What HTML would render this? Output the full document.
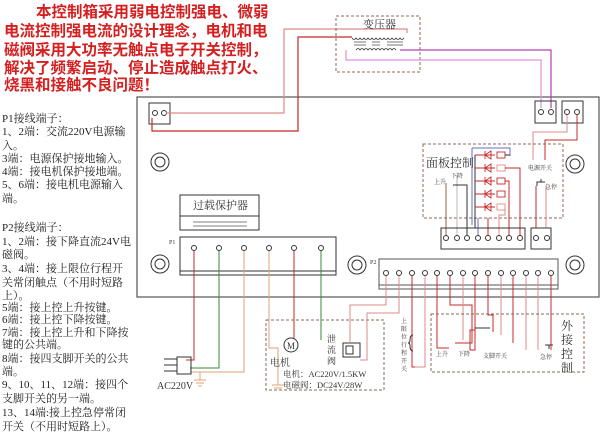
<!DOCTYPE html>
<html><head><meta charset="utf-8"><style>
html,body{margin:0;padding:0;background:#fff;width:600px;height:435px;overflow:hidden}
svg{display:block}
text{font-family:"Liberation Serif","Noto Serif CJK SC","Noto Sans CJK SC",serif}
.h text{font-family:"Liberation Sans","Noto Sans CJK SC",sans-serif}
</style></head><body>
<svg width="600" height="435" viewBox="0 0 600 435" xmlns="http://www.w3.org/2000/svg">
<!-- heading -->
<g class="h" fill="#d42020" font-size="15.5" font-weight="bold">
<text x="36" y="17">本控制箱采用弱电控制强电、微弱</text>
<text x="4" y="36">电流控制强电流的设计理念，电机和电</text>
<text x="4" y="55">磁阀采用大功率无触点电子开关控制，</text>
<text x="4" y="73">解决了频繁启动、停止造成触点打火、</text>
<text x="4" y="90">烧黑和接触不良问题！</text>
</g>
<g fill="#222" font-size="11">
<text x="2" y="122">P1接线端子：</text>
<text x="2" y="135">1、2端：交流220V电源输</text>
<text x="2" y="149">入。</text>
<text x="2" y="162">3端：电源保护接地输入。</text>
<text x="2" y="175">4端：接电机保护接地端。</text>
<text x="2" y="188">5、6端：接电机电源输入</text>
<text x="2" y="202">端。</text>
<text x="2" y="231">P2接线端子：</text>
<text x="2" y="245">1、2端：接下降直流24V电</text>
<text x="2" y="258">磁阀。</text>
<text x="2" y="272">3、4端：接上限位行程开</text>
<text x="2" y="286">关常闭触点（不用时短路</text>
<text x="2" y="299">上）。</text>
<text x="2" y="311">5端：接上控上升按键。</text>
<text x="2" y="323">6端：接上控下降按键。</text>
<text x="2" y="336">7端：接上控上升和下降按</text>
<text x="2" y="348">键的公共端。</text>
<text x="2" y="362">8端：接四支脚开关的公共</text>
<text x="2" y="375">端。</text>
<text x="2" y="388">9、10、11、12端：接四个</text>
<text x="2" y="402">支脚开关的另一端。</text>
<text x="2" y="416">13、14端:接上控急停常闭</text>
<text x="2" y="430">开关（不用时短路上）。</text>
</g>
<!-- board -->
<rect x="137" y="97" width="462" height="200" fill="none" stroke="#555" stroke-width="1.2"/>
<!-- holes -->
<g fill="none" stroke="#333">
<circle cx="160" cy="162" r="9"/><circle cx="160" cy="162" r="5"/>
<circle cx="160" cy="264" r="9"/><circle cx="160" cy="264" r="5"/>
<circle cx="575" cy="164" r="9"/><circle cx="575" cy="164" r="5"/>
<circle cx="357" cy="265" r="9"/><circle cx="357" cy="265" r="5"/>
<circle cx="575" cy="265" r="9"/><circle cx="575" cy="265" r="5"/>
</g>
<!-- top-left terminal -->
<rect x="149" y="103" width="21" height="21" fill="none" stroke="#333"/>
<circle cx="155" cy="113" r="2.5" fill="none" stroke="#333"/><circle cx="164" cy="113" r="2.5" fill="none" stroke="#333"/>
<polyline points="166,113 284,113 284,29 407,29 407,33" fill="none" stroke="#e08a8a" stroke-width="1.2"/>
<polyline points="152,118 152,131 298,131 298,37 352,37" fill="none" stroke="#c82828" stroke-width="1.2"/>
<!-- transformer -->
<rect x="336" y="16" width="84" height="56" fill="none" stroke="#8a6a5a" stroke-dasharray="3,2"/>
<text x="363" y="28" font-size="11" fill="#333">变压器</text>
<path d="M352,38 q2,3 4,0 q2,3 4,0 q2,3 4,0 q2,3 4,0 q2,3 4,0 q2,3 4,0 q2,3 4,0 q2,3 4,0 q2,3 4,0 q2,3 4,0 q2,3 4,0 q2,3 4,0 q2,3 4,0" fill="none" stroke="#333" stroke-width="0.8"/>
<g stroke="#555" stroke-width="0.8"><line x1="354" y1="42" x2="366" y2="42"/><line x1="372" y1="42" x2="380" y2="42"/><line x1="387" y1="42" x2="403" y2="42"/><line x1="354" y1="45" x2="366" y2="45"/><line x1="372" y1="45" x2="380" y2="45"/><line x1="387" y1="45" x2="403" y2="45"/></g>
<path d="M356,50 q2,-3 4,0 q2,-3 4,0 q2,-3 4,0 q2,-3 4,0 q2,-3 4,0 q2,-3 4,0 q2,-3 4,0 q2,-3 4,0 q2,-3 4,0 q2,-3 4,0" fill="none" stroke="#333" stroke-width="0.8"/>
<polyline points="400,50 551,50 551,108" fill="none" stroke="#b040b0" stroke-width="1.2"/>
<polyline points="346,50 346,60 541,60 541,108" fill="none" stroke="#e090e0" stroke-width="1.2"/>
<!-- right terminals -->
<rect x="535" y="101" width="21" height="22" fill="none" stroke="#333"/>
<rect x="562" y="101" width="21" height="22" fill="none" stroke="#333"/>
<g fill="#fff" stroke="#333"><circle cx="541" cy="112" r="2.5"/><circle cx="551" cy="112" r="2.5"/><circle cx="567" cy="112" r="2.5"/><circle cx="577" cy="112" r="2.5"/></g>
<polyline points="567,115 567,132 533,132 533,160" fill="none" stroke="#e08a8a"/>
<polyline points="577,115 577,140 545,140 545,160" fill="none" stroke="#c82828"/>
<!-- panel control -->
<rect x="423" y="144" width="140" height="74" fill="none" stroke="#8a6a5a" stroke-dasharray="3,2"/>
<text x="426" y="167" font-size="12" fill="#333">面板控制</text>
<text x="528" y="170" font-size="6" fill="#333">电源开关</text>
<text x="545" y="189" font-size="6" fill="#333">急停</text>
<text x="434" y="184" font-size="6" fill="#333">上升</text>
<text x="451" y="178" font-size="6" fill="#333">下降</text>
<path d="M537,186 v-4 h8 M541,182 v-3" stroke="#333" fill="none"/>
<polyline points="536,186 536,228" stroke="#c82828" fill="none"/>
<polyline points="546,186 546,228" stroke="#e08a8a" fill="none"/>
<polyline points="472,148 510,148 510,156" fill="none" stroke="#6070c0"/>
<line x1="472" y1="148" x2="472" y2="225" stroke="#6070c0"/>
<line x1="475" y1="155" x2="475" y2="228" stroke="#333"/>
<g stroke="#c82828" fill="none" stroke-width="0.9">
<g transform="translate(0,155)"><line x1="475" y1="0" x2="495" y2="0"/><polygon points="485,0 491,-4 491,4"/><line x1="485" y1="-4" x2="485" y2="4"/><rect x="497" y="-3" width="8" height="6"/></g>
<g transform="translate(0,168)"><line x1="475" y1="0" x2="495" y2="0"/><polygon points="485,0 491,-4 491,4"/><line x1="485" y1="-4" x2="485" y2="4"/><rect x="497" y="-3" width="8" height="6" stroke="#e08a8a"/></g>
<g transform="translate(0,181)"><line x1="475" y1="0" x2="495" y2="0"/><polygon points="485,0 491,-4 491,4"/><line x1="485" y1="-4" x2="485" y2="4"/><rect x="497" y="-3" width="8" height="6"/></g>
<g transform="translate(0,194)"><line x1="475" y1="0" x2="495" y2="0"/><polygon points="485,0 491,-4 491,4"/><line x1="485" y1="-4" x2="485" y2="4"/><rect x="497" y="-3" width="8" height="6"/></g>
<g transform="translate(0,207)"><line x1="475" y1="0" x2="495" y2="0"/><polygon points="485,0 491,-4 491,4"/><line x1="485" y1="-4" x2="485" y2="4"/><rect x="497" y="-3" width="8" height="6" stroke="#e08a8a"/></g>
</g>
<polyline points="505,155 510,155" stroke="#333"/>
<polyline points="505,168 520,168 520,235" stroke="#c82828" fill="none"/>
<polyline points="505,181 509,181 509,235" stroke="#c82828" fill="none"/>
<polyline points="505,207 505,215 499,215 499,235" stroke="#e08a8a" fill="none"/>
<polyline points="488,218 488,235" stroke="#c82828" fill="none"/>
<polyline points="478,218 478,235" stroke="#6070c0" fill="none"/>
<polyline points="446,183 446,235" stroke="#9a6040" fill="none"/>
<polyline points="457,175 457,235" stroke="#c0b0b8" fill="none"/>
<polyline points="453,185 467,185 467,235" stroke="#333" fill="none"/>
<rect x="441" y="228" width="84" height="21" fill="none" stroke="#333"/>
<rect x="531" y="228" width="20" height="21" fill="none" stroke="#333"/>
<g fill="#fff" stroke="#333"><circle cx="446" cy="238" r="2.5"/><circle cx="457" cy="238" r="2.5"/><circle cx="467" cy="238" r="2.5"/><circle cx="478" cy="238" r="2.5"/><circle cx="488" cy="238" r="2.5"/><circle cx="499" cy="238" r="2.5"/><circle cx="509" cy="238" r="2.5"/><circle cx="520" cy="238" r="2.5"/><circle cx="536" cy="238" r="2.5"/><circle cx="547" cy="238" r="2.5"/></g>
<!-- overload -->
<rect x="180" y="195" width="79" height="35" fill="none" stroke="#333"/>
<line x1="180" y1="216" x2="259" y2="216" stroke="#333"/>
<text x="193" y="209" font-size="11" fill="#333">过载保护器</text>
<g stroke="#555" stroke-width="0.8"><line x1="193" y1="222" x2="247" y2="222"/><line x1="193" y1="226" x2="247" y2="226"/></g>
<!-- P1 -->
<text x="169" y="244" font-size="6" fill="#333">P1</text>
<rect x="180" y="237" width="156" height="38" fill="none" stroke="#333"/>
<line x1="180" y1="271" x2="336" y2="271" stroke="#333"/>
<g fill="#fff" stroke="#333"><circle cx="194" cy="248" r="2.5"/><circle cx="219" cy="248" r="2.5"/><circle cx="244" cy="248" r="2.5"/><circle cx="269" cy="248" r="2.5"/><circle cx="294" cy="248" r="2.5"/><circle cx="321" cy="248" r="2.5"/></g>
<polyline points="194,251 194,360 186,360" stroke="#c82828" fill="none"/>
<polyline points="219,251 219,368 190,368" stroke="#3a8a3a" fill="none"/>
<polyline points="244,251 244,372 190,372" stroke="#e0a070" fill="none"/>
<line x1="200" y1="372" x2="200" y2="380" stroke="#e0a070"/>
<g stroke="#e0a070"><line x1="194" y1="380" x2="206" y2="380"/><line x1="196" y1="383" x2="204" y2="383"/><line x1="198" y1="386" x2="202" y2="386"/></g>
<polyline points="269,251 269,348 278,348 278,385" stroke="#e0a070" fill="none"/>
<g stroke="#e0a070"><line x1="272" y1="385" x2="284" y2="385"/><line x1="274" y1="388" x2="282" y2="388"/></g>
<polyline points="294,251 294,338" stroke="#c82828" fill="none"/>
<polyline points="321,251 321,340" stroke="#3a8a3a" fill="none"/>
<!-- plug -->
<rect x="177" y="357" width="14" height="17" fill="none" stroke="#333"/>
<g stroke="#333"><line x1="164" y1="359" x2="177" y2="359"/><line x1="164" y1="365" x2="177" y2="365"/><line x1="164" y1="371" x2="177" y2="371"/></g>
<text x="157" y="389" font-size="10" fill="#333">AC220V</text>
<!-- motor box -->
<rect x="266" y="320" width="118" height="70" fill="none" stroke="#8a6a5a" stroke-dasharray="3,2"/>
<circle cx="291" cy="345" r="7" fill="#fff" stroke="#333"/>
<text x="287" y="349" font-size="9" fill="#333">M</text>
<text x="270" y="366" font-size="10" fill="#333">电机</text>
<text x="283" y="377" font-size="8.5" fill="#333">电机：AC220V/1.5KW</text>
<text x="283" y="388" font-size="8.5" fill="#333">电磁阀：DC24V/28W</text>
<text x="327" y="342" font-size="9" fill="#333">泄</text>
<text x="327" y="353" font-size="9" fill="#333">流</text>
<text x="327" y="364" font-size="9" fill="#333">阀</text>
<rect x="343" y="343" width="17" height="14" fill="none" stroke="#333"/>
<rect x="346" y="346" width="7" height="8" fill="none" stroke="#333"/>
<!-- P2 -->
<text x="370" y="264" font-size="6" fill="#333">P2</text>
<rect x="379" y="259" width="179" height="30" fill="none" stroke="#555"/>
<line x1="379" y1="285" x2="558" y2="285" stroke="#555"/>
<g fill="#fff" stroke="#333"><circle cx="386" cy="273" r="2.5"/><circle cx="399" cy="273" r="2.5"/><circle cx="412" cy="273" r="2.5"/><circle cx="425" cy="273" r="2.5"/><circle cx="437" cy="273" r="2.5"/><circle cx="450" cy="273" r="2.5"/><circle cx="463" cy="273" r="2.5"/><circle cx="475" cy="273" r="2.5"/><circle cx="488" cy="273" r="2.5"/><circle cx="501" cy="273" r="2.5"/><circle cx="513" cy="273" r="2.5"/><circle cx="526" cy="273" r="2.5"/><circle cx="538" cy="273" r="2.5"/><circle cx="551" cy="273" r="2.5"/></g>
<g fill="none" stroke-width="1">
<polyline points="386,276 386,305 350,305 350,343" stroke="#e08a8a"/>
<polyline points="399,276 399,313 367,313 367,360 360,360" stroke="#e08a8a"/>
<polyline points="412,276 412,367 415,367" stroke="#c82828"/>
<polyline points="425,276 425,367 415,367" stroke="#e08a8a"/>
<polyline points="437,276 437,348 449,348" stroke="#c82828"/>
<polyline points="450,276 450,305 472,305 472,343 455,343" stroke="#c82828"/>
<polyline points="463,276 463,340" stroke="#e08a8a"/>
<polyline points="475,276 475,350 470,350 470,330 475,330" stroke="#c82828"/>
<polyline points="488,276 488,315 493,315 493,332" stroke="#c82828"/>
<polyline points="501,276 501,335" stroke="#e08a8a"/>
<polyline points="513,276 513,343" stroke="#c82828"/>
<polyline points="526,276 526,350" stroke="#e08a8a"/>
<polyline points="538,276 538,350" stroke="#e08a8a"/>
<polyline points="551,276 551,350" stroke="#c82828"/>
</g>
<polyline points="475,328 490,328 M475,336 490,336" stroke="#333" fill="none"/>
<!-- external -->
<rect x="431" y="314" width="153" height="58" fill="none" stroke="#8a6a5a" stroke-dasharray="3,2"/>
<g font-size="12" fill="#333"><text x="561" y="330">外</text><text x="561" y="344">接</text><text x="561" y="358">控</text><text x="561" y="372">制</text></g>
<g font-size="6" fill="#333"><text x="436" y="356">上升</text><text x="458" y="356">下降</text><text x="483" y="358">支脚开关</text><text x="540" y="359">急停</text></g>
<g font-size="6" fill="#333"><text x="401" y="323">上</text><text x="401" y="331">限</text><text x="401" y="339">位</text><text x="401" y="347">行</text><text x="401" y="355">程</text><text x="401" y="363">开</text><text x="401" y="371">关</text></g>
<path d="M413,335 q-3,0 -3,5 q0,3 -2,3 q2,0 2,3 q0,5 3,5" fill="none" stroke="#333"/>
<g stroke="#333"><line x1="545" y1="345" x2="553" y2="345"/><line x1="549" y1="345" x2="549" y2="349"/></g>
</svg>
</body></html>
